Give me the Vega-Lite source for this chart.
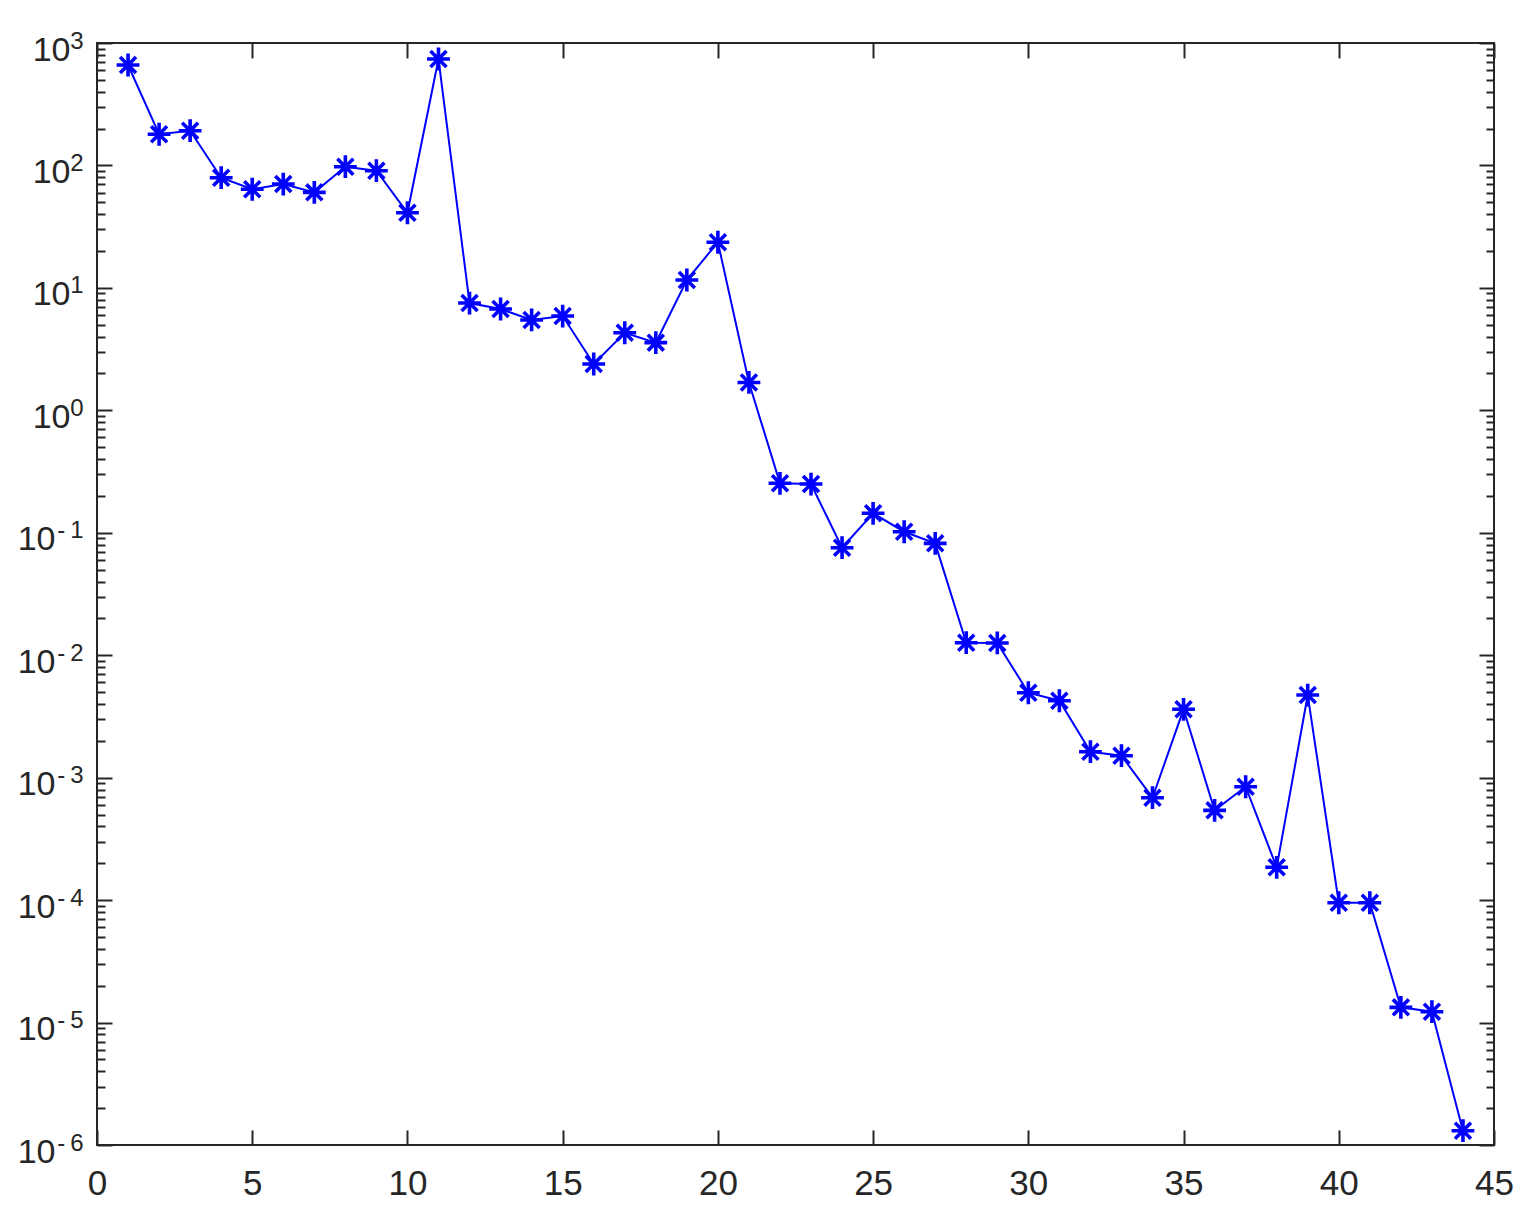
{
  "$schema": "https://vega.github.io/schema/vega-lite/v6.json",
  "autosize": {"type": "none"},
  "padding": {"left": 97, "top": 43, "right": 45, "bottom": 75},
  "width": 1397,
  "height": 1102,
  "background": "white",
  "data": {"values": [
    {"x": 1, "y": 661}, {"x": 2, "y": 179.7}, {"x": 3, "y": 192.2}, {"x": 4, "y": 79.4},
    {"x": 5, "y": 63.9}, {"x": 6, "y": 70.5}, {"x": 7, "y": 60.3}, {"x": 8, "y": 97.7},
    {"x": 9, "y": 90.6}, {"x": 10, "y": 41.1}, {"x": 11, "y": 740}, {"x": 12, "y": 7.52},
    {"x": 13, "y": 6.72}, {"x": 14, "y": 5.47}, {"x": 15, "y": 5.89}, {"x": 16, "y": 2.39},
    {"x": 17, "y": 4.30}, {"x": 18, "y": 3.57}, {"x": 19, "y": 11.6}, {"x": 20, "y": 23.6},
    {"x": 21, "y": 1.69}, {"x": 22, "y": 0.2535}, {"x": 23, "y": 0.250}, {"x": 24, "y": 0.0755},
    {"x": 25, "y": 0.1442}, {"x": 26, "y": 0.1020}, {"x": 27, "y": 0.0820}, {"x": 28, "y": 0.01265},
    {"x": 29, "y": 0.0126}, {"x": 30, "y": 0.00494}, {"x": 31, "y": 0.00425}, {"x": 32, "y": 0.001629},
    {"x": 33, "y": 0.001511}, {"x": 34, "y": 0.000686}, {"x": 35, "y": 0.003617}, {"x": 36, "y": 0.000541},
    {"x": 37, "y": 0.000843}, {"x": 38, "y": 0.0001853}, {"x": 39, "y": 0.00473}, {"x": 40, "y": 0.0000952},
    {"x": 41, "y": 0.0000952}, {"x": 42, "y": 0.00001331}, {"x": 43, "y": 0.00001226}, {"x": 44, "y": 0.000001308}
  ]},
  "layer": [
    {
      "mark": {"type": "line", "color": "#0000ff", "strokeWidth": 2},
      "encoding": {
        "x": {"field": "x", "type": "quantitative", "scale": {"domain": [0, 45], "nice": false, "zero": false},
          "axis": {"orient": "bottom", "values": [0,5,10,15,20,25,30,35,40,45], "ticks": false, "domain": false, "grid": false,
            "labelFontSize": 35, "labelBaseline": "alphabetic", "labelPadding": 49, "labelFlush": false, "labelOverlap": false, "title": null}},
        "y": {"field": "y", "type": "quantitative", "scale": {"type": "log", "domain": [0.000001, 1000], "nice": false},
          "axis": {"orient": "left", "values": [0.000001,0.00001,0.0001,0.001,0.01,0.1,1,10,100,1000], "ticks": false, "domain": false, "grid": false,
            "labelExpr": "'10'", "labelFontSize": 34, "labelAlign": "right", "labelBaseline": "alphabetic", "labelOffset": 17,
            "labelPadding": {"condition": {"test": "datum.value < 1", "value": 42}, "value": 27},
            "labelOverlap": false, "labelFlush": false, "title": null}}
      }
    },
    {
      "mark": {"type": "point", "shape": "M-1,0L1,0M0,-1L0,1M-0.7,-0.7L0.7,0.7M-0.7,0.7L0.7,-0.7", "filled": false, "stroke": "#0000ff", "strokeWidth": 3.6, "size": 520, "opacity": 1},
      "encoding": {
        "x": {"field": "x", "type": "quantitative",
          "axis": {"orient": "top", "values": [0,5,10,15,20,25,30,35,40,45], "labels": false, "domain": false, "grid": false, "tickSize": -15, "title": null}},
        "y": {"field": "y", "type": "quantitative",
          "axis": {"orient": "left", "values": [0.000001,0.00001,0.0001,0.001,0.01,0.1,1,10,100,1000], "ticks": false, "domain": false, "grid": false,
            "labelExpr": "datum.value < 1 ? '-\u2009' + (-round(log(datum.value) / LN10)) : '' + round(log(datum.value) / LN10)", "labelFontSize": 24, "labelAlign": "right", "labelBaseline": "alphabetic",
            "labelOffset": 5, "labelPadding": 14, "labelOverlap": false, "labelFlush": false, "title": null}}
      }
    },
    {
      "mark": {"type": "point", "opacity": 0},
      "encoding": {
        "x": {"field": "x", "type": "quantitative",
          "axis": {"orient": "bottom", "values": [0,5,10,15,20,25,30,35,40,45], "labels": false, "domain": false, "grid": false, "tickSize": -15, "title": null}},
        "y": {"field": "y", "type": "quantitative",
          "axis": {"orient": "left", "values": [0.000001,0.00001,0.0001,0.001,0.01,0.1,1,10,100,1000], "labels": false, "domain": false, "grid": false, "tickSize": -15, "title": null}}
      }
    },
    {
      "mark": {"type": "point", "opacity": 0},
      "encoding": {
        "x": {"field": "x", "type": "quantitative", "axis": null},
        "y": {"field": "y", "type": "quantitative",
          "axis": {"orient": "left", "values": [2e-6,3e-6,4e-6,5e-6,6e-6,7e-6,8e-6,9e-6,2e-5,3e-5,4e-5,5e-5,6e-5,7e-5,8e-5,9e-5,0.0002,0.0003,0.0004,0.0005,0.0006,0.0007,0.0008,0.0009,0.002,0.003,0.004,0.005,0.006,0.007,0.008,0.009,0.02,0.03,0.04,0.05,0.06,0.07,0.08,0.09,0.2,0.3,0.4,0.5,0.6,0.7,0.8,0.9,2,3,4,5,6,7,8,9,20,30,40,50,60,70,80,90,200,300,400,500,600,700,800,900],
            "labels": false, "domain": false, "grid": false, "tickSize": -8, "title": null}}
      }
    },
    {
      "mark": {"type": "point", "opacity": 0},
      "encoding": {
        "x": {"field": "x", "type": "quantitative", "axis": null},
        "y": {"field": "y", "type": "quantitative",
          "axis": {"orient": "right", "values": [0.000001,0.00001,0.0001,0.001,0.01,0.1,1,10,100,1000], "labels": false, "domain": false, "grid": false, "tickSize": -15, "title": null}}
      }
    },
    {
      "mark": {"type": "point", "opacity": 0},
      "encoding": {
        "x": {"field": "x", "type": "quantitative", "axis": null},
        "y": {"field": "y", "type": "quantitative",
          "axis": {"orient": "right", "values": [2e-6,3e-6,4e-6,5e-6,6e-6,7e-6,8e-6,9e-6,2e-5,3e-5,4e-5,5e-5,6e-5,7e-5,8e-5,9e-5,0.0002,0.0003,0.0004,0.0005,0.0006,0.0007,0.0008,0.0009,0.002,0.003,0.004,0.005,0.006,0.007,0.008,0.009,0.02,0.03,0.04,0.05,0.06,0.07,0.08,0.09,0.2,0.3,0.4,0.5,0.6,0.7,0.8,0.9,2,3,4,5,6,7,8,9,20,30,40,50,60,70,80,90,200,300,400,500,600,700,800,900],
            "labels": false, "domain": false, "grid": false, "tickSize": -8, "title": null}}
      }
    }
  ],
  "resolve": {"axis": {"x": "independent", "y": "independent"}},
  "config": {
    "view": {"stroke": "#262626", "strokeWidth": 2},
    "axis": {"tickColor": "#262626", "tickWidth": 2, "labelColor": "#262626", "labelFont": "Liberation Sans", "grid": false}
  }
}
